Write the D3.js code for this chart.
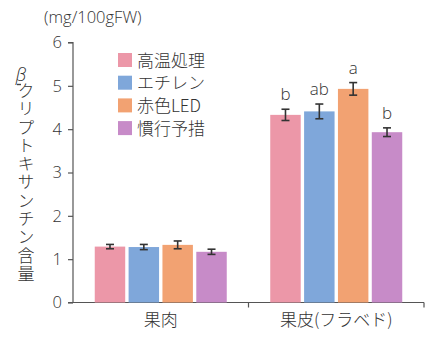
<!DOCTYPE html>
<html><head><meta charset="utf-8">
<script src="https://cdn.jsdelivr.net/npm/d3@7"></script>
<style>
body{margin:0;background:#fff;}
text{font-family:"Noto Sans CJK JP","Noto Sans",sans-serif;fill:#333;font-weight:300;}
</style></head>
<body><svg id="c" width="427" height="338"></svg>
<script>
const categories = ["果肉", "果皮(フラベド)"];
const seriesNames = ["高温処理", "エチレン", "赤色LED", "慣行予措"];
const seriesColors = ["#EC97A8", "#7FA7DA", "#F2A272", "#C78BC8"];
const valuesFlesh = [1.29, 1.28, 1.33, 1.17];
const errorsFlesh = [0.05, 0.06, 0.09, 0.06];
const valuesPeel = [4.33, 4.41, 4.93, 3.93];
const errorsPeel = [0.13, 0.17, 0.145, 0.10];
const lettersPeel = ["b", "ab", "a", "b"];
const yTicks = [0, 1, 2, 3, 4, 5, 6];
const unitLabel = "(mg/100gFW)";
const yLabelGreek = "β";
const yLabel = "クリプトキサンチン含量";

const svg = d3.select("#c");
const x0 = d3.scaleBand().domain(categories).range([73, 424]).paddingInner(0).paddingOuter(0);
const y = d3.scaleLinear().domain([0, 6]).range([302.5, 42.5]);
const x1 = d3.scaleBand().domain(seriesNames).range([0, 132]).paddingInner(0.1);
const groupOffset = (x0.bandwidth() - 132) / 2;
const latin = "'Open Sans','Noto Sans',sans-serif";

// axes
const yAxis = svg.append("g").attr("transform", "translate(73,0)")
  .call(d3.axisLeft(y).tickValues(yTicks).tickSize(5).tickPadding(6).tickFormat(d3.format("d")));
yAxis.select(".domain").attr("stroke", "#555").attr("stroke-width", 1.2).attr("d", "M-5," + y(6) + "H0V" + y(0) + "H-5");
yAxis.selectAll(".tick line").attr("stroke", "#555").attr("stroke-width", 1.2);
yAxis.selectAll(".tick text").attr("font-size", 16.5).style("fill", "#333")
  .style("font-family", latin).style("font-weight", 300);

const xAxis = svg.append("g").attr("transform", "translate(0," + y(0) + ")")
  .call(d3.axisBottom(x0).tickSize(0).tickPadding(11));
xAxis.select(".domain").attr("stroke", "#555").attr("stroke-width", 1.2).attr("d", "M73,0H424");
xAxis.selectAll(".tick text").attr("font-size", 17).style("fill", "#333");
// boundary ticks
svg.append("g").selectAll("line").data([x0.range()[0] + x0.bandwidth(), x0.range()[1]]).join("line")
  .attr("x1", d => d).attr("x2", d => d).attr("y1", y(0)).attr("y2", y(0) + 5)
  .attr("stroke", "#555").attr("stroke-width", 1.2);

// bars
const groups = [
  {cat: categories[0], vals: valuesFlesh, errs: errorsFlesh, letters: null},
  {cat: categories[1], vals: valuesPeel, errs: errorsPeel, letters: lettersPeel}
];
groups.forEach(g => {
  const gx = x0(g.cat) + groupOffset;
  const data = seriesNames.map((s, i) => ({s, i, v: g.vals[i], e: g.errs[i], l: g.letters ? g.letters[i] : null}));
  const gg = svg.append("g").attr("transform", "translate(" + gx + ",0)");
  gg.selectAll("rect").data(data).join("rect")
    .attr("x", d => x1(d.s)).attr("width", x1.bandwidth())
    .attr("y", d => y(d.v)).attr("height", d => y(0) - y(d.v))
    .attr("fill", d => seriesColors[d.i]);
  const eb = gg.selectAll("g.eb").data(data).join("g").attr("class", "eb")
    .attr("transform", d => "translate(" + (x1(d.s) + x1.bandwidth() / 2) + ",0)");
  eb.append("line").attr("y1", d => y(d.v + d.e)).attr("y2", d => y(d.v - d.e)).attr("stroke", "#333").attr("stroke-width", 1.6);
  eb.append("line").attr("x1", -4).attr("x2", 4).attr("y1", d => y(d.v + d.e)).attr("y2", d => y(d.v + d.e)).attr("stroke", "#333").attr("stroke-width", 1.6);
  eb.append("line").attr("x1", -4).attr("x2", 4).attr("y1", d => y(d.v - d.e)).attr("y2", d => y(d.v - d.e)).attr("stroke", "#333").attr("stroke-width", 1.6);
  eb.filter(d => d.l).append("text").attr("text-anchor", "middle")
    .attr("y", d => y(d.v + d.e) - 9).attr("font-size", 17)
    .style("fill", "#333").style("font-family", latin).style("font-weight", 300)
    .text(d => d.l);
});

// legend
const leg = svg.append("g").attr("transform", "translate(118,52)");
const li = leg.selectAll("g").data(seriesNames).join("g")
  .attr("transform", (d, i) => "translate(0," + (i * 22.7) + ")");
li.append("rect").attr("width", 14).attr("height", 14).attr("y", 1).attr("fill", (d, i) => seriesColors[i]);
li.append("text").attr("x", 19).attr("y", 14.5).attr("font-size", 17).style("fill", "#333").text(d => d);

// unit label
svg.append("text").attr("x", 44).attr("y", 23).attr("font-size", 16.5)
  .style("font-family", latin).style("font-weight", 300).style("fill", "#333")
  .text(unitLabel);

// y label: greek + hyphen, then vertical Japanese
svg.append("text").attr("x", 21).attr("y", 81).attr("font-size", 18).attr("text-anchor", "middle")
  .style("font-style", "italic").style("font-family", latin).style("fill", "#333").text(yLabelGreek);
svg.append("line").attr("x1", 17).attr("x2", 21).attr("y1", 84.5).attr("y2", 84.5)
  .attr("stroke", "#444").attr("stroke-width", 1.4);
svg.append("text").attr("x", 26).attr("y", 82).attr("font-size", 17)
  .style("writing-mode", "vertical-rl").style("text-orientation", "upright")
  .style("letter-spacing", "1.3px").style("fill", "#333")
  .text(yLabel);
</script></body></html>
